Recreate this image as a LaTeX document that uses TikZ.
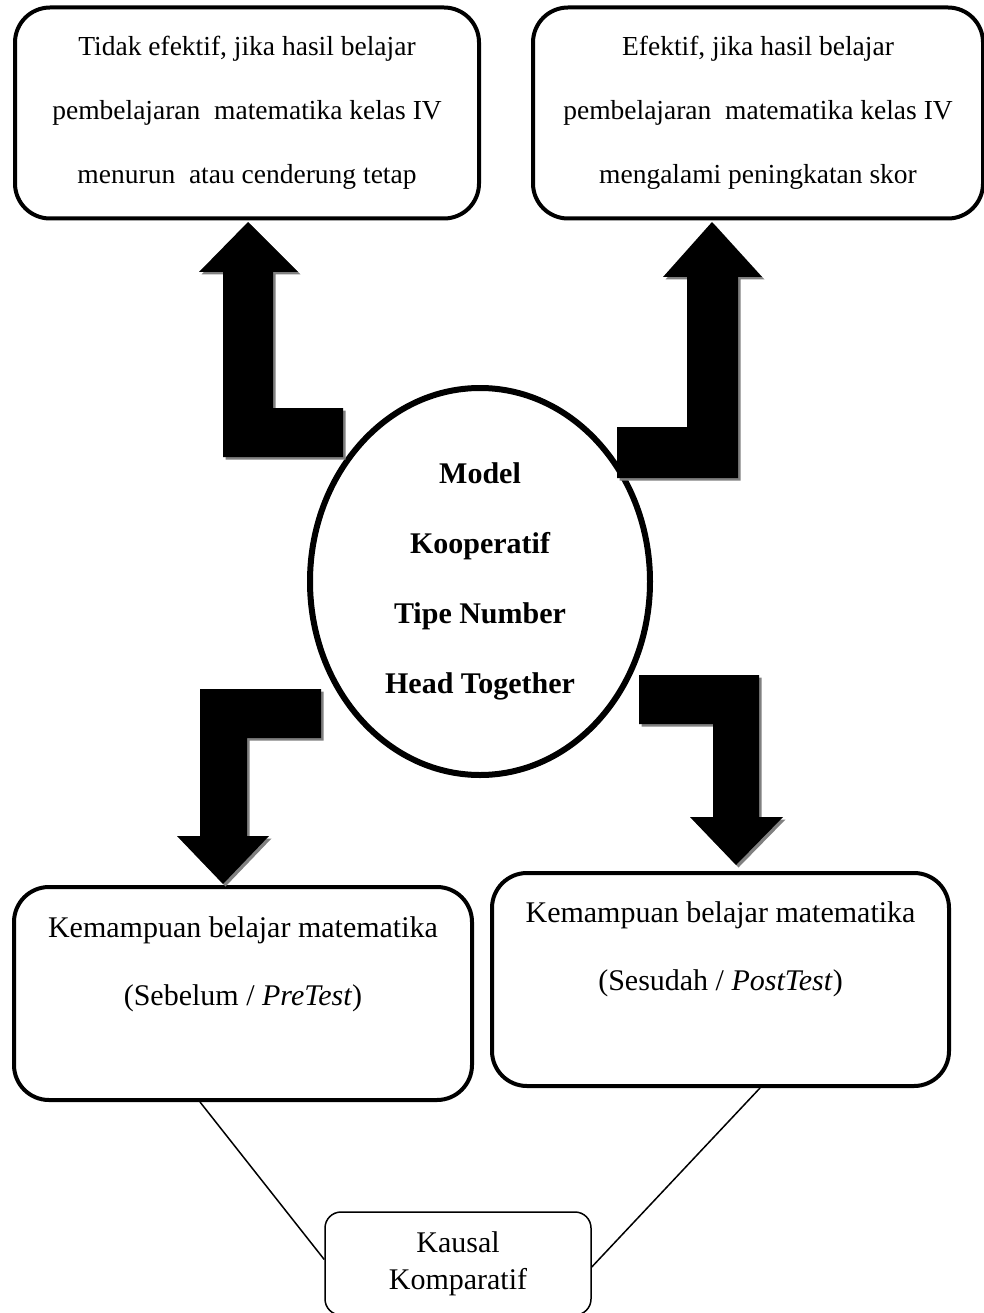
\documentclass[tikz,border=0pt]{standalone}
\usepackage{fontspec}
\setmainfont{Liberation Serif}
\usetikzlibrary{shapes.geometric,shadows}

\begin{document}
\begin{tikzpicture}[x=1pt, y=-1pt,
	roundbox/.style={draw, line width=4pt, rounded corners=35pt, fill=white},
	smallbox/.style={draw, line width=1.5pt, rounded corners=16pt, fill=white, align=center, font=\fontsize{30}{37}\selectfont},
	bubble/.style={ellipse, draw, line width=6pt, fill=white, inner sep=0pt, align=center, font=\fontsize{30}{70}\selectfont\bfseries, drop shadow={shadow xshift=1pt, shadow yshift=-2.5pt, fill=gray!80, opacity=1}},
	blockarrow/.style={fill=black, drop shadow={shadow xshift=2.5pt, shadow yshift=-2.5pt, fill=gray, opacity=1}},
	link/.style={line width=1.5pt}]
			\useasboundingbox (0,0) rectangle (984,1313);
			\node[roundbox, minimum width=464pt, minimum height=211pt, align=center, font=\fontsize{27.5}{64}\selectfont] (neg) at (247,113) {Tidak efektif, jika hasil belajar\\pembelajaran~ matematika kelas IV\\menurun~ atau cenderung tetap};
			\node[roundbox, minimum width=450pt, minimum height=211pt, align=center, font=\fontsize{27.5}{64}\selectfont] (pos) at (758,113) {Efektif, jika hasil belajar\\pembelajaran~ matematika kelas IV\\mengalami peningkatan skor};
			\node[bubble, minimum width=340pt, minimum height=387pt] (model) at (480,581.5) {Model\\Kooperatif\\Tipe Number\\Head Together};
			\node[roundbox, minimum width=458pt, minimum height=213pt] (pre) at (243,993.5) {};
			\node[anchor=north, align=center, font=\fontsize{30}{68}\selectfont, inner sep=0pt] (pretext) at ([yshift=-31pt]pre.north) {Kemampuan belajar matematika\\(Sebelum / \textit{PreTest})};
			\node[roundbox, minimum width=457pt, minimum height=213pt] (post) at (720.5,979.5) {};
			\node[anchor=north, align=center, font=\fontsize{30}{68}\selectfont, inner sep=0pt] (posttext) at ([yshift=-30pt]post.north) {Kemampuan belajar matematika\\(Sesudah / \textit{PostTest})};
			\node[smallbox, minimum width=266pt, minimum height=103pt] (kausal) at (458,1263.5) {Kausal\\Komparatif};
			\draw[link] ([xshift=-43pt]pre.south) -- ([yshift=4pt]kausal.west);
			\draw[link] ([xshift=39.5pt]post.south) -- ([yshift=-3.5pt]kausal.east);
			\fill[blockarrow] (248,222) -- (298,272) -- (273,272) -- (273,408) -- (343,408) -- (343,457) -- (223,457) -- (223,272) -- (199,272) -- cycle;
			\fill[blockarrow] (712,222) -- (762,277) -- (738,277) -- (738,478) -- (617,478) -- (617,427) -- (687,427) -- (687,277) -- (663,277) -- cycle;
			\fill[blockarrow] (200,689) -- (321,689) -- (321,738) -- (247,738) -- (247,836) -- (269,836) -- (223,884) -- (177,836) -- (200,836) -- cycle;
			\fill[blockarrow] (639,675) -- (759,675) -- (759,817) -- (783,817) -- (736,865) -- (690,817) -- (713,817) -- (713,724) -- (639,724) -- cycle;
		\end{tikzpicture}
\end{document}
